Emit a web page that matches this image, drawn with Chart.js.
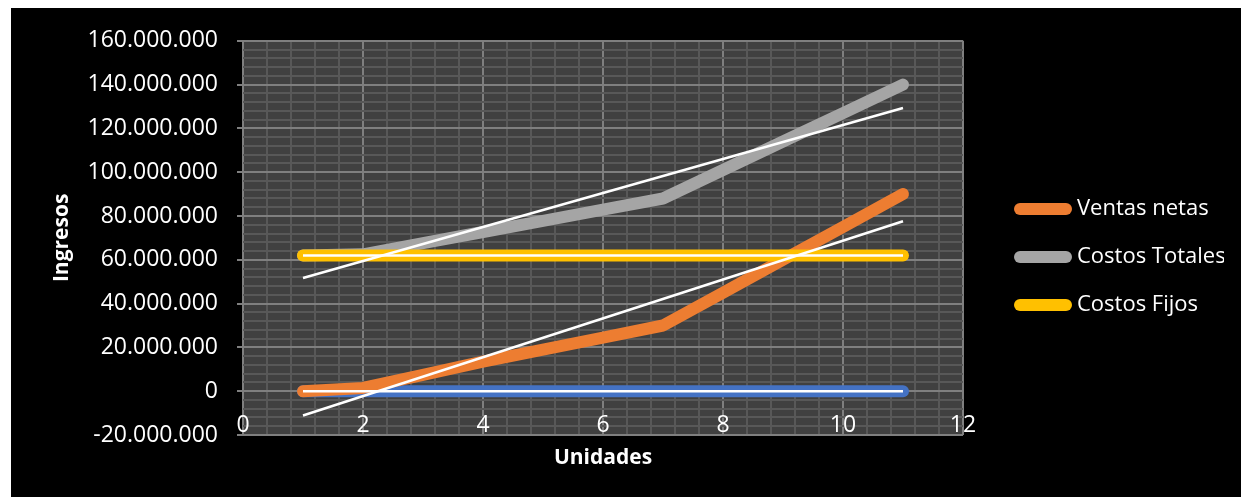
<!DOCTYPE html>
<html>
<head>
<meta charset="utf-8">
<script src="https://cdn.jsdelivr.net/npm/chart.js@4/dist/chart.umd.min.js"></script>
<style>
  html, body { margin: 0; padding: 0; background: #ffffff; }
  #panel { position: absolute; left: 11px; top: 8px; width: 1230px; height: 489px; background: #000000; }
  canvas { display: block; }
</style>
</head>
<body>
<div id="panel"><canvas id="chart" width="1230" height="489"></canvas></div>
<script>
// Units produced (x) and the money series (y)
const unidades = [1, 2, 3, 4, 5, 6, 7, 8, 9, 10, 11];
const ventasNetas = [0, 1500000, 7500000, 13500000, 19000000, 24500000, 30000000, 45000000, 60000000, 75000000, 90000000];
const costosTotales = [62000000, 62500000, 67600000, 72700000, 77800000, 82900000, 88000000, 101000000, 114000000, 127000000, 140000000];
const costosFijos = [62000000, 62000000, 62000000, 62000000, 62000000, 62000000, 62000000, 62000000, 62000000, 62000000, 62000000];
const equilibrio = [0, 0, 0, 0, 0, 0, 0, 0, 0, 0, 0];

// Axis ranges and tick steps (major = labelled, minor = grid only)
const xMin = 0, xMax = 12, xMajor = 2, xMinor = 0.4;
const yMin = -20000000, yMax = 160000000, yMajor = 20000000, yMinor = 4000000;

const FONT = '"Open Sans", "Noto Sans", sans-serif';
const MAJOR_GRID = '#7f7f7f';
const MINOR_GRID = '#585858';
const PLOT_BG = '#404040';
const LINE_WIDTH = 12;

function points(ys) {
  return unidades.map((u, i) => ({ x: u, y: ys[i] }));
}

// Least-squares linear trend, evaluated at the first and last unit
function trend(ys) {
  const n = unidades.length;
  const mx = unidades.reduce((a, b) => a + b, 0) / n;
  const my = ys.reduce((a, b) => a + b, 0) / n;
  let sxy = 0, sxx = 0;
  for (let i = 0; i < n; i++) {
    sxy += (unidades[i] - mx) * (ys[i] - my);
    sxx += (unidades[i] - mx) * (unidades[i] - mx);
  }
  const b = sxy / sxx;
  const a = my - b * mx;
  const x0 = unidades[0], x1 = unidades[n - 1];
  return [{ x: x0, y: a + b * x0 }, { x: x1, y: a + b * x1 }];
}

function isMultiple(v, step) {
  const r = v / step;
  return Math.abs(r - Math.round(r)) < 1e-6;
}

function stepTicks(min, max, step) {
  const out = [];
  const n = Math.round((max - min) / step);
  for (let i = 0; i <= n; i++) out.push({ value: Math.round((min + i * step) * 1e6) / 1e6 });
  return out;
}

function formatMiles(v) {
  const s = Math.abs(Math.round(v)).toString().replace(/\B(?=(\d{3})+(?!\d))/g, '.');
  return (v < 0 ? '-' : '') + s;
}

const seriesLine = (label, color, ys, order) => ({
  label, data: points(ys), borderColor: color, backgroundColor: color,
  borderWidth: LINE_WIDTH, borderCapStyle: 'round', borderJoinStyle: 'round',
  pointRadius: 0, tension: 0, order
});

const trendLine = (label, ys) => ({
  label, data: trend(ys), borderColor: '#ffffff', backgroundColor: '#ffffff',
  borderWidth: 2.5, borderCapStyle: 'butt', pointRadius: 0, tension: 0, order: 0
});

// dark fill behind the grid
const plotBackground = {
  id: 'plotBackground',
  beforeDraw(chart) {
    const { ctx, chartArea: a } = chart;
    ctx.save();
    ctx.fillStyle = PLOT_BG;
    ctx.fillRect(a.left, a.top, a.right - a.left, a.bottom - a.top);
    ctx.restore();
  }
};

// x tick labels sit just inside the bottom of the plot
const X_LABEL_RAISE = 23;
const raiseXLabels = {
  id: 'raiseXLabels',
  afterLayout(chart) {
    const s = chart.scales.x;
    s.top = chart.chartArea.bottom - X_LABEL_RAISE;
  }
};

new Chart(document.getElementById('chart'), {
  type: 'line',
  data: {
    datasets: [
      seriesLine('Ventas netas', '#ED7D31', ventasNetas, 3),
      seriesLine('Costos Totales', '#A5A5A5', costosTotales, 2),
      seriesLine('Costos Fijos', '#FFC000', costosFijos, 1),
      seriesLine('Equilibrio', '#4472C4', equilibrio, 4),
      trendLine('Tendencia ventas', ventasNetas),
      trendLine('Tendencia costos totales', costosTotales),
      trendLine('Tendencia costos fijos', costosFijos),
      trendLine('Tendencia equilibrio', equilibrio)
    ]
  },
  options: {
    responsive: false,
    animation: false,
    devicePixelRatio: 1,
    layout: { padding: { top: 29, right: 17, bottom: 20, left: 0 } },
    scales: {
      x: {
        type: 'linear',
        position: 'bottom',
        min: xMin, max: xMax,
        afterBuildTicks(s) { s.ticks = stepTicks(xMin, xMax, xMinor); },
        afterFit(s) { s.height = 42; },
        ticks: {
          autoSkip: false, maxRotation: 0, minRotation: 0,
          padding: 0,
          color: '#ffffff',
          font: { family: FONT, size: 23 },
          callback: (v) => isMultiple(v, xMajor) ? String(Math.round(v)) : ''
        },
        grid: {
          drawTicks: false,
          lineWidth: 2,
          color: (c) => (c.tick && isMultiple(c.tick.value, xMajor)) ? MAJOR_GRID : MINOR_GRID
        },
        border: { display: false },
        title: {
          display: true, text: 'Unidades', color: '#ffffff',
          font: { family: FONT, size: 21, weight: 'bold' },
          padding: { top: 0, bottom: 6 }
        }
      },
      y: {
        type: 'linear',
        position: 'left',
        min: yMin, max: yMax,
        afterBuildTicks(s) { s.ticks = stepTicks(yMin, yMax, yMinor); },
        afterFit(s) { s.width = 232; },
        ticks: {
          autoSkip: false,
          padding: 19,
          color: '#ffffff',
          font: { family: FONT, size: 23 },
          callback: (v) => isMultiple(v, yMajor) ? formatMiles(v) : ''
        },
        grid: {
          drawTicks: true,
          tickLength: 6,
          lineWidth: 2,
          color: (c) => (c.tick && isMultiple(c.tick.value, yMajor)) ? MAJOR_GRID : MINOR_GRID,
          tickColor: (c) => (c.tick && isMultiple(c.tick.value, yMajor)) ? MAJOR_GRID : 'rgba(0,0,0,0)'
        },
        border: { display: false },
        title: {
          display: true, text: 'Ingresos', color: '#ffffff',
          font: { family: FONT, size: 21, weight: 'bold' },
          padding: { top: 38, bottom: 0 }
        }
      },
      // empty spacer between the plot and the legend
      gap: {
        type: 'linear',
        position: 'right',
        display: true,
        grid: { display: false },
        border: { display: false },
        ticks: { display: false },
        afterFit(s) { s.width = 31; }
      }
    },
    plugins: {
      legend: {
        display: true,
        position: 'right',
        align: 'center',
        maxWidth: 230,
        labels: {
          usePointStyle: true,
          pointStyle: 'line',
          pointStyleWidth: 46,
          padding: 26,
          color: '#ffffff',
          font: { family: FONT, size: 22 },
          generateLabels: (chart) => chart.data.datasets.slice(0, 3).map((ds, i) => ({
            text: ds.label,
            fillStyle: ds.borderColor,
            strokeStyle: ds.borderColor,
            lineWidth: LINE_WIDTH,
            lineCap: 'round',
            pointStyle: 'line',
            fontColor: '#ffffff',
            hidden: false,
            datasetIndex: i
          }))
        }
      },
      tooltip: { enabled: false }
    }
  },
  plugins: [plotBackground, raiseXLabels]
});
</script>
</body>
</html>
